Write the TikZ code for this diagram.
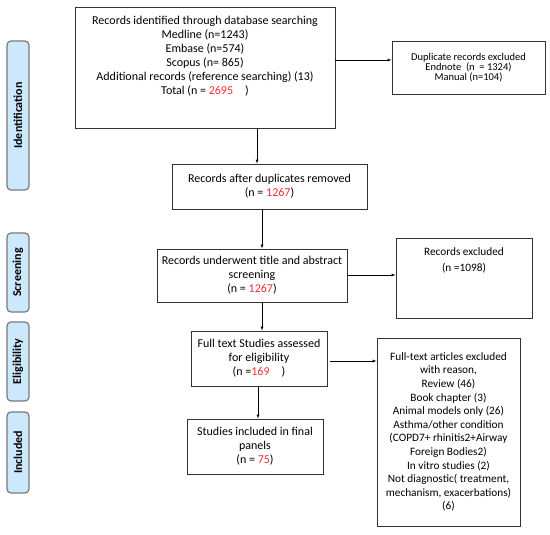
\documentclass[tikz,border=0pt]{standalone}
\usepackage{fontspec}
\setmainfont{Carlito}
\usetikzlibrary{arrows,positioning}
\definecolor{phasefill}{HTML}{CCE8FC}
\definecolor{phaseline}{HTML}{7A7A7A}
\definecolor{numred}{HTML}{F03030}
\newcommand{\nred}[1]{\textcolor{numred}{#1}}

\begin{document}
\begin{tikzpicture}[x=1pt,y=-1pt,>=latex,
  box/.style={draw=black!80,line width=0.8pt,align=center,inner sep=2pt,
    font=\fontsize{12}{14}\selectfont},
  phase/.style={draw=phaseline,line width=1.2pt,fill=phasefill,rounded corners=4pt,
    rotate=90,minimum height=22pt,inner sep=1pt,font=\bfseries\fontsize{12}{13}\selectfont}]
\useasboundingbox (0,0) rectangle (550,535);

% phases
\node[phase,minimum width=149pt] (identification) at (18,115.5) {Identification};
\node[phase,minimum width=79pt] (screening) at (18,272.5) {Screening};
\node[phase,minimum width=79pt] (eligibility) at (18,361.5) {Eligibility};
\node[phase,minimum width=81pt] (included) at (18,452.5) {Included};

% boxes
\node[box,minimum width=260pt,minimum height=121pt,
  label={[box,draw=none,anchor=north,yshift=-7pt]north:Records identified through database searching\\
  Medline (n=1243)\\ Embase (n=574)\\ Scopus (n= 865)\\
  Additional records (reference searching) (13)\\ Total (n = \nred{2695}\quad)}] (ident) at (205,67.5) {};
\node[box,minimum width=153pt,minimum height=53pt,font=\fontsize{10.5}{10}\selectfont] (dupl) at (468.5,67.5)
  {Duplicate records excluded\\ Endnote~ (n~ = 1324)\\ Manual (n=104)};
\node[box,minimum width=195pt,minimum height=45pt] (dedup) at (269.5,186.5)
  {Records after duplicates removed\\ (n = \nred{1267})};
\node[box,minimum width=190pt,minimum height=53pt] (screen) at (252,275.5)
  {Records underwent title and abstract\\ screening\\ (n = \nred{1267})};
\node[box,minimum width=136pt,minimum height=80pt,
  label={[box,draw=none,anchor=north,yshift=-8pt,font=\fontsize{11.3}{16}\selectfont]north:Records excluded\\ (n =1098)}] (excl) at (464,278) {};
\node[box,minimum width=136pt,minimum height=55pt] (full) at (259,358.5)
  {Full text Studies assessed\\ for eligibility\\ (n =\nred{169}\quad)};
\node[box,minimum width=143pt,minimum height=188pt,font=\fontsize{11.3}{13.6}\selectfont] (fullexcl) at (448.5,432)
  {Full-text articles excluded\\ with reason,\\ Review (46)\\ Book chapter (3)\\ Animal models only (26)\\
  Asthma/other condition\\ (COPD7+ rhinitis2+Airway\\ Foreign Bodies2)\\ In vitro studies (2)\\
  Not diagnostic( treatment,\\ mechanism, exacerbations)\\ (6)};
\node[box,minimum width=136pt,minimum height=55pt] (final) at (255,446.5)
  {Studies included in final\\ panels\\ (n = \nred{75})};

% arrows
\draw[->] (257,0 |- ident.south) -- (257,0 |- dedup.north);
\draw[->] (262,0 |- dedup.south) -- (262,0 |- screen.north);
\draw[->] (262,0 |- screen.south) -- (262,0 |- full.north);
\draw[->] (258,0 |- full.south) -- (258,0 |- final.north);
\draw[->] (ident.east |- 0,60) -- (dupl.west |- 0,60);
\draw[->] (screen.east |- 0,275) -- (excl.west |- 0,275);
\draw[->] (330,361) -- (fullexcl.west |- 0,361);
\end{tikzpicture}
\end{document}
